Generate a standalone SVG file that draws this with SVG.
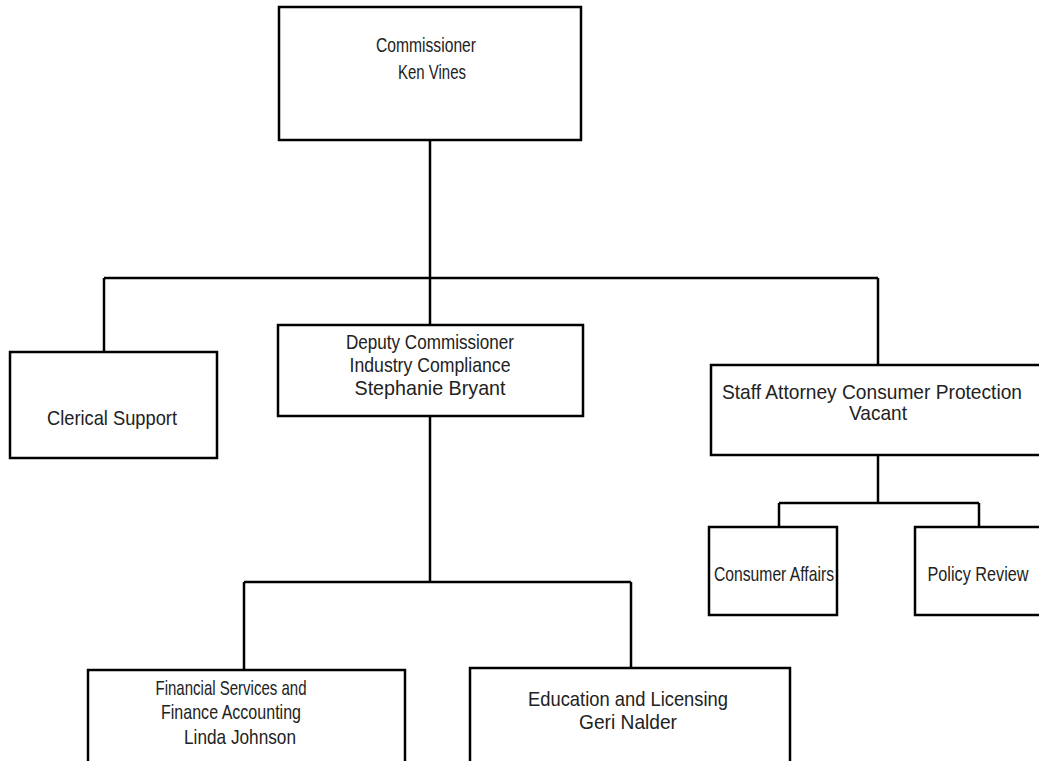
<svg xmlns="http://www.w3.org/2000/svg" width="1039" height="761" viewBox="0 0 1039 761">
  <style>
    .box { fill: #ffffff; stroke: #000000; stroke-width: 2.5; }
    .wire { fill: none; stroke: #000000; stroke-width: 2.5; }
    text { font-family: "Liberation Sans", Arial, sans-serif; font-size: 21px; fill: #222222; text-anchor: middle; }
  </style>
  <rect width="1039" height="761" fill="#ffffff"/>

  <!-- reporting lines -->
  <g id="connectors">
    <path class="wire" d="M430 140 V325"/>
    <path class="wire" d="M104 278 H878"/>
    <path class="wire" d="M104 278 V352"/>
    <path class="wire" d="M878 278 V365"/>
    <path class="wire" d="M430 416 V582"/>
    <path class="wire" d="M244 582 H631"/>
    <path class="wire" d="M244 582 V670"/>
    <path class="wire" d="M631 582 V668"/>
    <path class="wire" d="M878 455 V503"/>
    <path class="wire" d="M779 503 H979"/>
    <path class="wire" d="M779 503 V527"/>
    <path class="wire" d="M979 503 V527"/>
  </g>

  <g id="commissioner">
    <rect class="box" x="279" y="7" width="302" height="133"/>
    <text x="426" y="52" textLength="100" lengthAdjust="spacingAndGlyphs">Commissioner</text>
    <text x="432" y="79" textLength="68" lengthAdjust="spacingAndGlyphs">Ken Vines</text>
  </g>

  <g id="clerical-support">
    <rect class="box" x="10" y="352" width="207" height="106"/>
    <text x="112" y="425" textLength="130" lengthAdjust="spacingAndGlyphs">Clerical Support</text>
  </g>

  <g id="deputy-commissioner">
    <rect class="box" x="278" y="325" width="305" height="91"/>
    <text x="430" y="349" textLength="168" lengthAdjust="spacingAndGlyphs">Deputy Commissioner</text>
    <text x="430" y="372" textLength="161" lengthAdjust="spacingAndGlyphs">Industry Compliance</text>
    <text x="430" y="395" textLength="151" lengthAdjust="spacingAndGlyphs">Stephanie Bryant</text>
  </g>

  <g id="staff-attorney">
    <rect class="box" x="711" y="365" width="340" height="90"/>
    <text x="872" y="399" textLength="300" lengthAdjust="spacingAndGlyphs">Staff Attorney Consumer Protection</text>
    <text x="878" y="420" textLength="58" lengthAdjust="spacingAndGlyphs">Vacant</text>
  </g>

  <g id="consumer-affairs">
    <rect class="box" x="709" y="527" width="128" height="88"/>
    <text x="774" y="581" textLength="120" lengthAdjust="spacingAndGlyphs">Consumer Affairs</text>
  </g>

  <g id="policy-review">
    <rect class="box" x="915" y="527" width="140" height="88"/>
    <text x="978" y="581" textLength="101" lengthAdjust="spacingAndGlyphs">Policy Review</text>
  </g>

  <g id="financial-services">
    <rect class="box" x="88" y="670" width="317" height="110"/>
    <text x="231" y="695" textLength="151" lengthAdjust="spacingAndGlyphs">Financial Services and</text>
    <text x="231" y="719" textLength="140" lengthAdjust="spacingAndGlyphs">Finance Accounting</text>
    <text x="240" y="744" textLength="112" lengthAdjust="spacingAndGlyphs">Linda Johnson</text>
  </g>

  <g id="education-licensing">
    <rect class="box" x="470" y="668" width="320" height="110"/>
    <text x="628" y="706" textLength="200" lengthAdjust="spacingAndGlyphs">Education and Licensing</text>
    <text x="628" y="729" textLength="98" lengthAdjust="spacingAndGlyphs">Geri Nalder</text>
  </g>
</svg>
